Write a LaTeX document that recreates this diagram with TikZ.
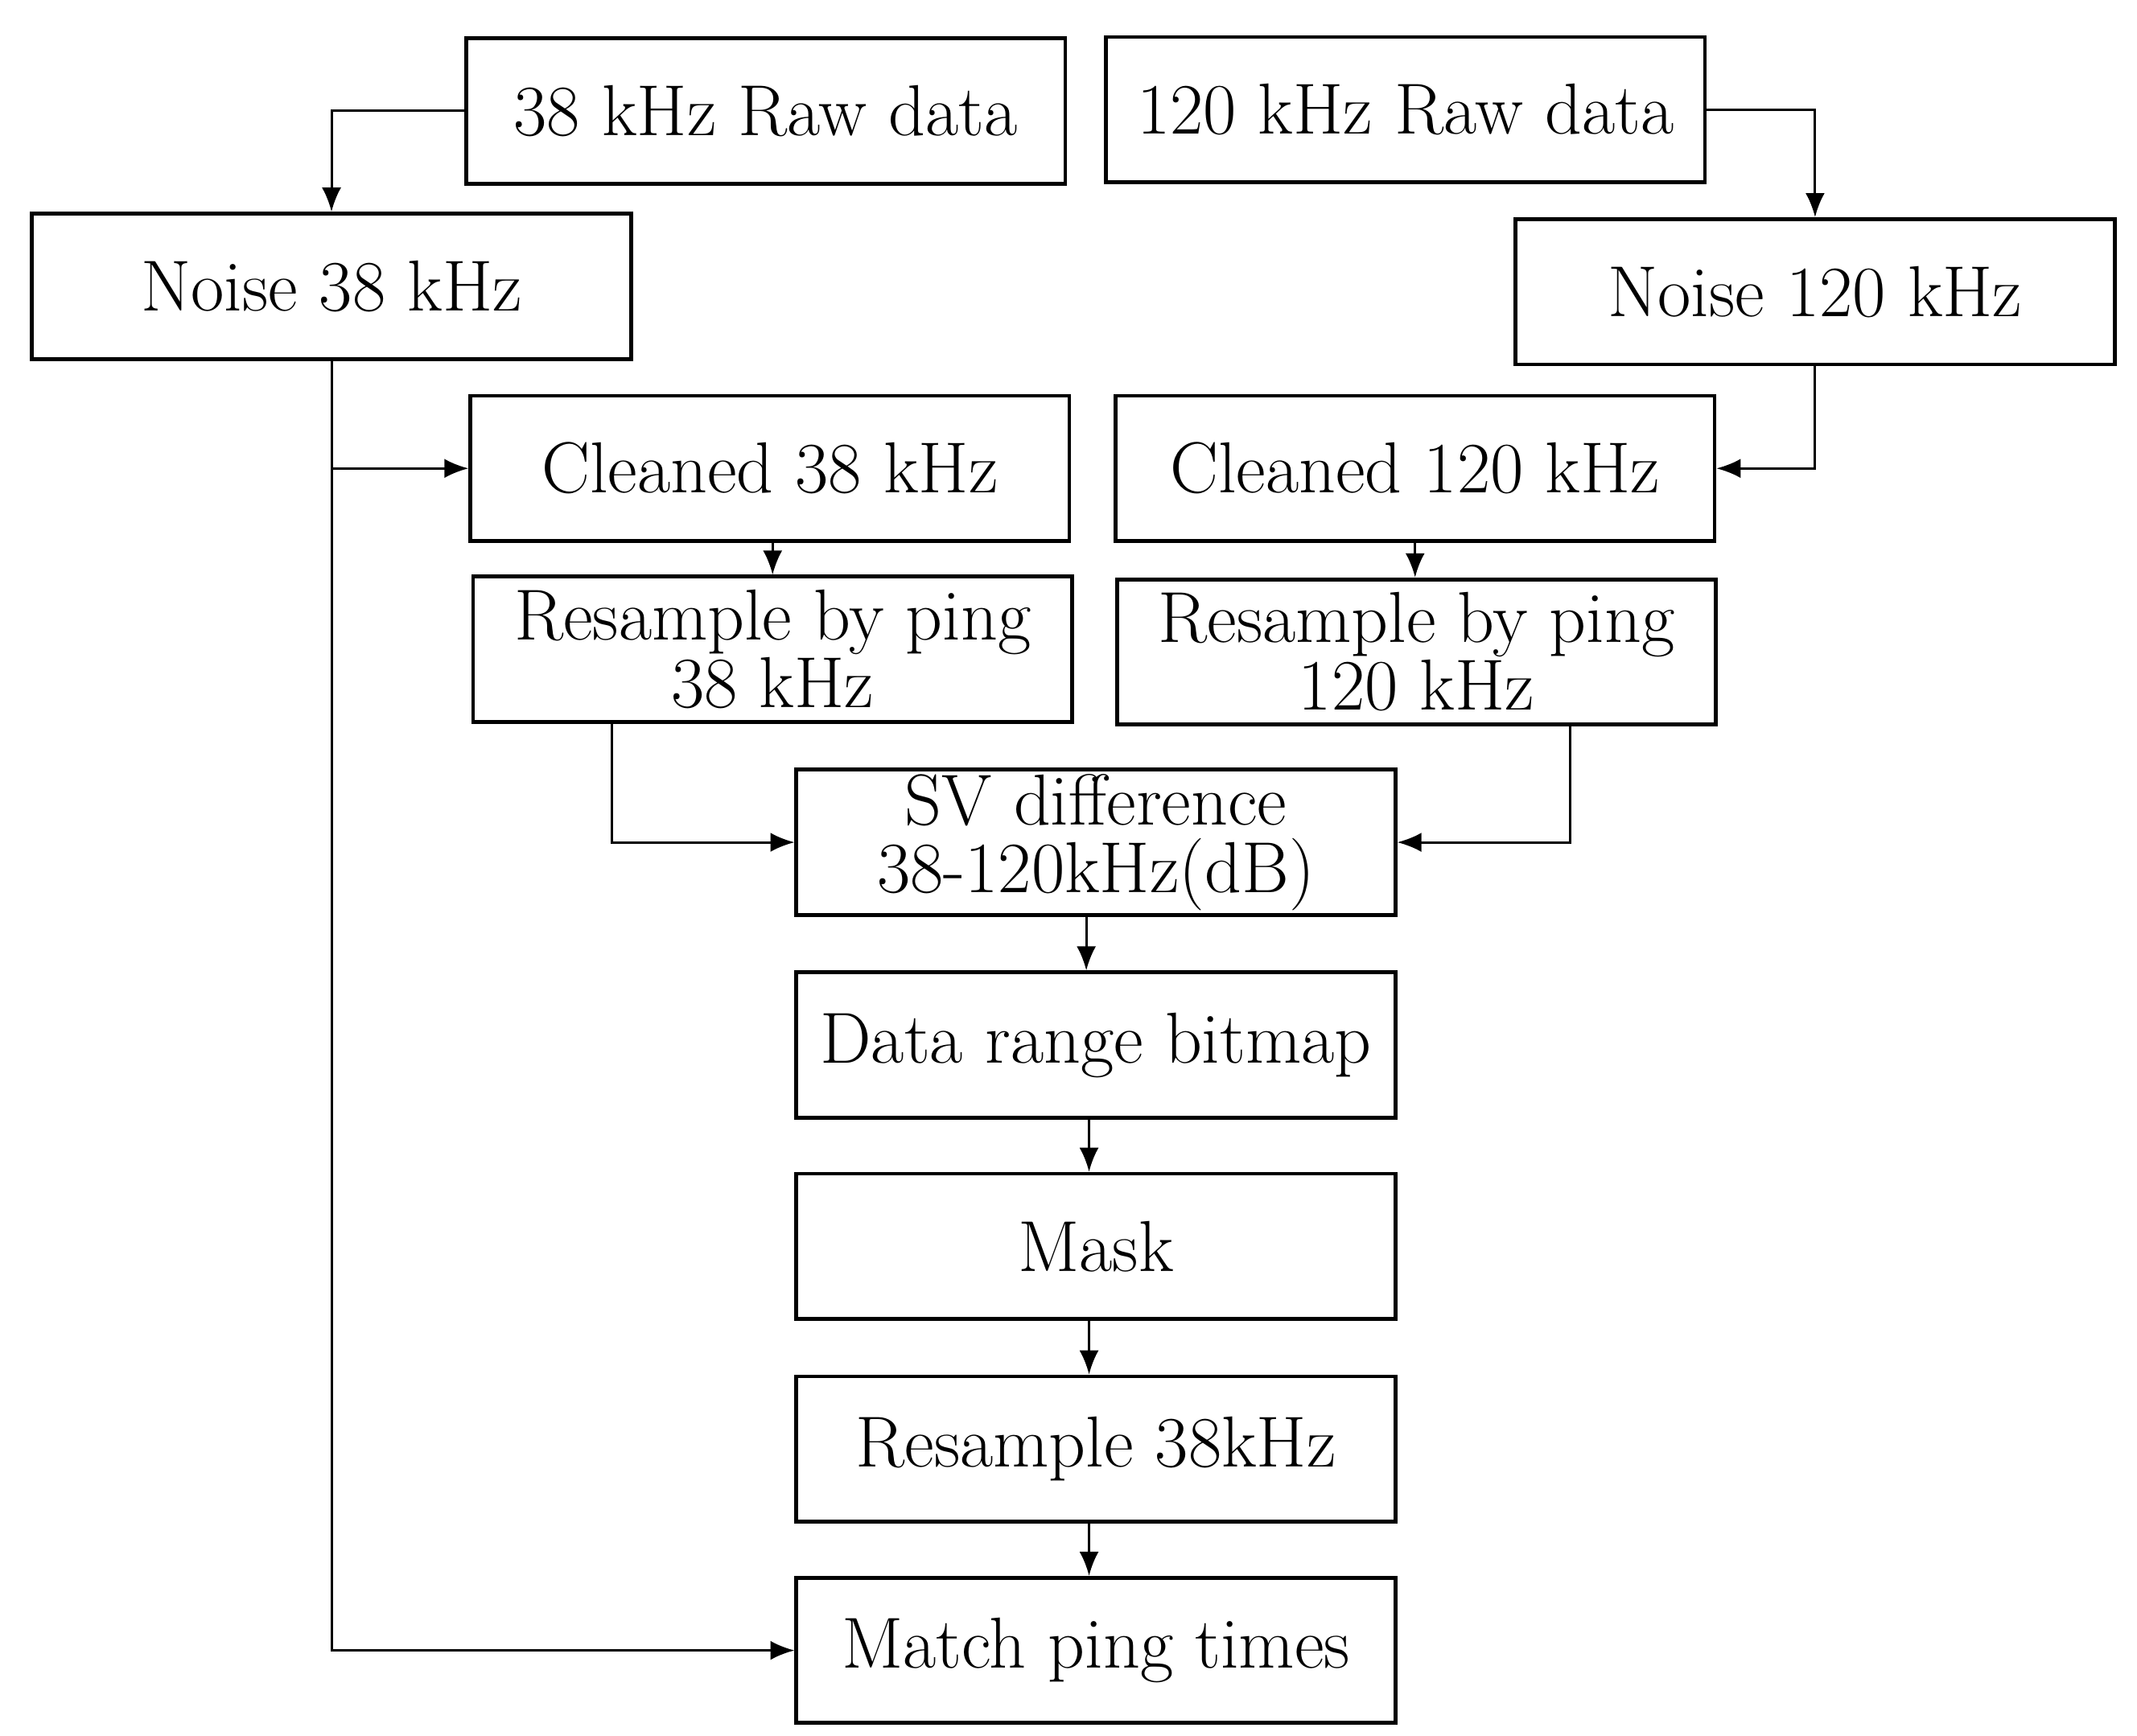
\documentclass[tikz,border=0pt]{standalone}
\usetikzlibrary{arrows.meta}
\begin{document}
\begin{tikzpicture}[x=0.01cm,y=-0.01cm,
  box/.style={draw,line width=0.8pt,minimum width=4.37cm,minimum height=1.06cm,
    inner sep=0pt,align=center,font=\fontsize{15}{14}\selectfont},
  arr/.style={-{Latex[length=5pt,width=4pt]},line width=0.5pt}]
\useasboundingbox (0,0) rectangle (1560,1267);
\node[box] (raw38) at (559,81) {38 kHz Raw data};
\node[box] (raw120) at (1026,80) {120 kHz Raw data};
\node[box] (n38) at (242,209) {Noise 38 kHz};
\node[box] (n120) at (1325,213) {Noise 120 kHz};
\node[box] (c38) at (562,342) {Cleaned 38 kHz};
\node[box] (c120) at (1033,342) {Cleaned 120 kHz};
\node[box] (r38) at (564,474) {Resample by ping\\38 kHz};
\node[box] (r120) at (1034,476) {Resample by ping\\120 kHz};
\node[box] (sv) at (800,615) {SV difference\\38-120kHz(dB)};
\node[box] (dr) at (800,763) {Data range bitmap};
\node[box] (mask) at (800,910) {Mask};
\node[box] (rs) at (800,1058) {Resample 38kHz};
\node[box] (match) at (800,1205) {Match ping times};
\coordinate (j38) at (242,342);
\draw[arr] (raw38.west) -| (n38.north);
\draw[arr] (raw120.east) -| (n120.north);
\draw[arr] (n38.south) |- (c38.west);
\draw[arr] (j38) |- (match.west);
\draw[arr] (n120.south) |- (c120.east);
\draw[arr] (c38.south -| r38.north) -- (r38.north);
\draw[arr] (c120.south) -- (c120.south |- r120.north);
\draw[arr] ([xshift=-1.17cm]r38.south) |- (sv.west);
\draw[arr] ([xshift=1.12cm]r120.south) |- (sv.east);
\draw[arr] ([xshift=-0.07cm]sv.south) -- ([xshift=-0.07cm]dr.north);
\draw[arr] ([xshift=-0.05cm]dr.south) -- ([xshift=-0.05cm]mask.north);
\draw[arr] ([xshift=-0.05cm]mask.south) -- ([xshift=-0.05cm]rs.north);
\draw[arr] ([xshift=-0.05cm]rs.south) -- ([xshift=-0.05cm]match.north);
\end{tikzpicture}
\end{document}
